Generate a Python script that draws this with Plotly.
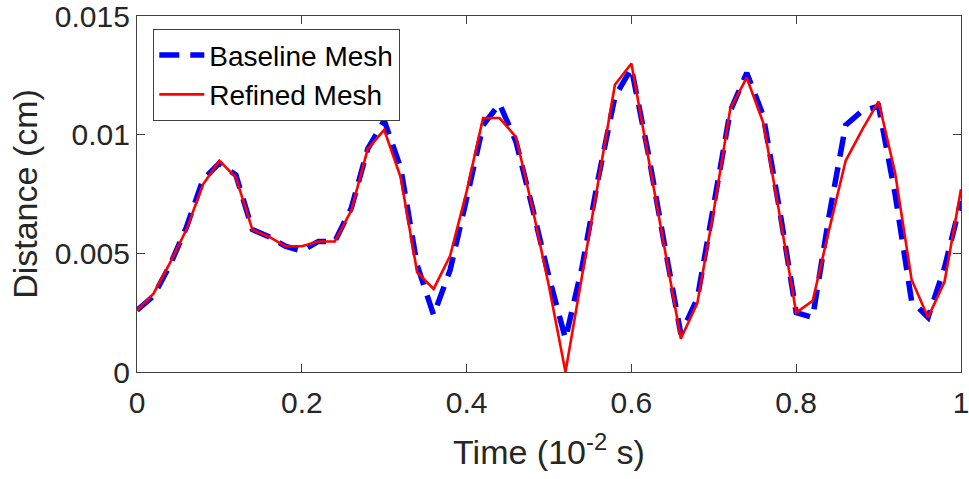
import plotly.graph_objects as go

time = [0.00, 0.02, 0.04, 0.06, 0.08, 0.10, 0.12, 0.14, 0.16, 0.18,
        0.20, 0.22, 0.24, 0.26, 0.28, 0.30, 0.32, 0.34, 0.36, 0.38,
        0.40, 0.42, 0.44, 0.46, 0.48, 0.50, 0.52, 0.54, 0.56, 0.58,
        0.60, 0.62, 0.64, 0.66, 0.68, 0.70, 0.72, 0.74, 0.76, 0.78,
        0.80, 0.82, 0.84, 0.86, 0.88, 0.90, 0.92, 0.94, 0.96, 0.98, 1.00]

baseline = [0.0026, 0.0032, 0.0045, 0.0061, 0.0081, 0.0088, 0.0083, 0.0060, 0.0057, 0.0053,
            0.0051, 0.0055, 0.0055, 0.0069, 0.0094, 0.0106, 0.0086, 0.0045, 0.0024, 0.0043,
            0.0073, 0.0104, 0.0113, 0.0097, 0.0069, 0.0040, 0.0014, 0.0044, 0.0082, 0.0116,
            0.0128, 0.0093, 0.0054, 0.0016, 0.0031, 0.0069, 0.0110, 0.0126, 0.0108, 0.0068,
            0.0025, 0.0023, 0.0066, 0.0104, 0.0110, 0.0112, 0.0075, 0.0030, 0.0023, 0.0044, 0.0072]

refined = [0.0026, 0.0033, 0.0046, 0.0060, 0.0079, 0.0089, 0.0082, 0.0060, 0.0057, 0.0053,
           0.0053, 0.0055, 0.0055, 0.0068, 0.0094, 0.0102, 0.0082, 0.0042, 0.0035, 0.0049,
           0.0076, 0.0107, 0.0107, 0.0099, 0.0069, 0.0036, 0.0000, 0.0040, 0.0081, 0.0121,
           0.0130, 0.0091, 0.0052, 0.0014, 0.0029, 0.0068, 0.0111, 0.0124, 0.0105, 0.0066,
           0.0025, 0.0030, 0.0060, 0.0089, 0.0102, 0.0114, 0.0084, 0.0039, 0.0023, 0.0038, 0.0077]

x_ticks = [0, 0.2, 0.4, 0.6, 0.8, 1]
x_ticklabels = ["0", "0.2", "0.4", "0.6", "0.8", "1"]
y_ticks = [0, 0.005, 0.01, 0.015]
y_ticklabels = ["0", "0.005", "0.01", "0.015"]

FONT = "Liberation Sans, Arial, Helvetica, sans-serif"
AX = "#404040"

fig = go.Figure()
fig.add_trace(go.Scatter(x=time, y=baseline, mode="lines", name="Baseline Mesh",
                         line=dict(color="#0000ff", width=5.5, dash="20px,11px")))
fig.add_trace(go.Scatter(x=time, y=refined, mode="lines", name="Refined Mesh",
                         line=dict(color="#ff0000", width=2.6)))

axis_common = dict(showline=True, linecolor=AX, linewidth=1.3, mirror="ticks",
                   ticks="inside", ticklen=8, tickwidth=1.2, tickcolor=AX,
                   showgrid=False, zeroline=False, automargin=False,
                   ticklabeloverflow="allow",
                   tickfont=dict(family=FONT, size=30, color="#262626"))

fig.update_layout(
    width=969, height=479,
    margin=dict(l=137, r=8, t=16, b=107),
    paper_bgcolor="white", plot_bgcolor="white",
    font=dict(family=FONT, color="#262626"),
    xaxis=dict(range=[0, 1], tickvals=x_ticks, ticktext=x_ticklabels,
               ticklabelstandoff=4,
               title=dict(text="Time (10<sup>-2</sup> s)", font=dict(size=34, family=FONT, color="#262626"),
                          standoff=22),
               **axis_common),
    yaxis=dict(range=[0, 0.015], tickvals=y_ticks, ticktext=y_ticklabels,
               title=dict(text="Distance (cm)", font=dict(size=34, family=FONT, color="#262626"),
                          standoff=6),
               **axis_common),
    legend=dict(x=0.0194, y=0.9635, xanchor="left", yanchor="top",
                bgcolor="white", bordercolor=AX, borderwidth=1.3,
                font=dict(family=FONT, size=28, color="#000000"),
                itemwidth=45, tracegroupgap=0),
    showlegend=True,
)

fig.write_html("out.html")
